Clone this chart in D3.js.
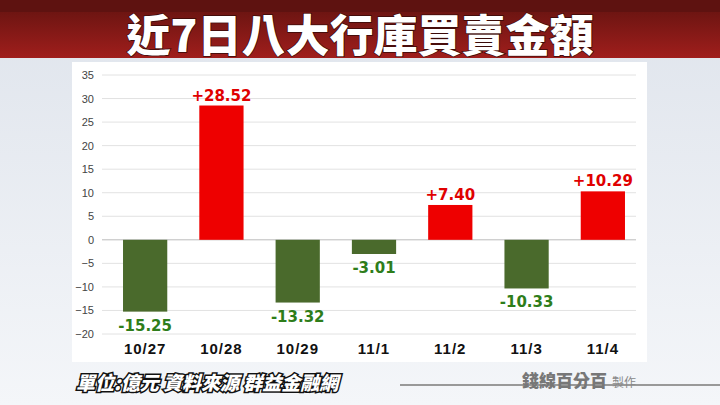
<!DOCTYPE html>
<html><head><meta charset="utf-8">
<script src="https://cdn.jsdelivr.net/npm/d3@7"></script>
<style>body{margin:0;overflow:hidden}</style>
</head><body><div id="chart"></div>
<script>
const dates = ["10/27","10/28","10/29","11/1","11/2","11/3","11/4"];
const values = [-15.25, 28.52, -13.32, -3.01, 7.40, -10.33, 10.29];
const yTicks = [35,30,25,20,15,10,5,0,-5,-10,-15,-20];

const W = 720, H = 405;
const svg = d3.select("#chart").append("svg").attr("width", W).attr("height", H)
  .style("font-family", "'DejaVu Sans', sans-serif");

const defs = svg.append("defs");
const bg = defs.append("linearGradient").attr("id","bg").attr("x1",0).attr("y1",0).attr("x2",0).attr("y2",1);
bg.append("stop").attr("offset","0%").attr("stop-color","#dfe4ec");
bg.append("stop").attr("offset","100%").attr("stop-color","#f4f6f9");
const rg = defs.append("linearGradient").attr("id","red").attr("x1",0).attr("y1",0).attr("x2",0).attr("y2",1);
rg.append("stop").attr("offset","0%").attr("stop-color","#6e1512");
rg.append("stop").attr("offset","100%").attr("stop-color","#a01e1c");

svg.append("rect").attr("width",W).attr("height",H).attr("fill","url(#bg)");
svg.append("rect").attr("width",W).attr("height",12).attr("fill","#5e1210");
svg.append("rect").attr("y",12).attr("width",W).attr("height",46).attr("fill","url(#red)");

svg.append("text").attr("x",W/2).attr("y",52).attr("text-anchor","middle")
  .attr("font-family","'Noto Sans CJK TC'").attr("font-weight",900).attr("font-size",44)
  .attr("fill","#fff").attr("stroke","#3a0a08").attr("stroke-width",1.5).attr("paint-order","stroke")
  .text("近7日八大行庫買賣金額");

svg.append("rect").attr("x",72).attr("y",62).attr("width",575).attr("height",300).attr("fill","#fff");

const margin = {top: 75, left: 107, right: 641, bottom: 334};
const x = d3.scaleBand().domain(dates).range([margin.left, margin.right]).paddingInner(0.42).paddingOuter(0.21);
const y = d3.scaleLinear().domain([-20, 35]).range([margin.bottom, margin.top]);

const g = svg.append("g");
g.selectAll(".grid").data(yTicks).join("line")
  .attr("x1", 102).attr("x2", 636)
  .attr("y1", d => y(d)).attr("y2", d => y(d))
  .attr("stroke", d => d === 0 ? "#bbb" : "#e2e2e2");

const yAxis = d3.axisLeft(y).tickValues(yTicks).tickSize(0).tickPadding(8);
g.append("g").attr("transform", "translate(102,0)").call(yAxis)
  .call(a => a.select(".domain").remove())
  .selectAll("text").attr("font-size", 11).attr("fill", "#444").attr("text-anchor","end");

g.selectAll(".bar").data(values).join("rect")
  .attr("x", (d, i) => x(dates[i]))
  .attr("y", d => y(Math.max(0, d)))
  .attr("width", x.bandwidth())
  .attr("height", d => Math.abs(y(d) - y(0)))
  .attr("fill", d => d > 0 ? "#ee0000" : "#4a6a2c");

g.selectAll(".lbl").data(values).join("text")
  .attr("x", (d, i) => x(dates[i]) + x.bandwidth() / 2)
  .attr("y", d => d > 0 ? y(d) - 5 : y(d) + 19)
  .attr("text-anchor", "middle").attr("font-weight", "bold").attr("font-size", 15)
  .attr("fill", d => d > 0 ? "#e00000" : "#2e7d1a")
  .text(d => (d > 0 ? "+" : "") + d.toFixed(2));

const xAxis = d3.axisBottom(x).tickSize(0).tickPadding(0);
g.append("g").attr("transform", "translate(0,354)").call(xAxis)
  .call(a => a.select(".domain").remove())
  .selectAll("text").attr("font-size", 15).attr("font-weight", "bold").attr("fill", "#111")
  .attr("letter-spacing", 1).attr("dy", 0);

svg.append("text").attr("x",76).attr("y",390)
  .attr("font-family","'Noto Sans CJK TC'").attr("font-weight",900).attr("font-style","italic")
  .attr("font-size",19).attr("fill","#fff").attr("stroke","#111").attr("stroke-width",3).attr("paint-order","stroke")
  .text("單位:億元 資料來源 群益金融網");
svg.append("line").attr("x1",400).attr("x2",720).attr("y1",385).attr("y2",385).attr("stroke","#999").attr("stroke-width",2);
svg.append("text").attr("x",522).attr("y",387)
  .attr("font-family","'Noto Sans CJK TC'").attr("font-weight",900).attr("font-size",17).attr("fill","#777")
  .text("錢線百分百");
svg.append("text").attr("x",612).attr("y",387)
  .attr("font-family","'Noto Sans CJK TC'").attr("font-size",12).attr("fill","#888").text("製作");
</script></body></html>
